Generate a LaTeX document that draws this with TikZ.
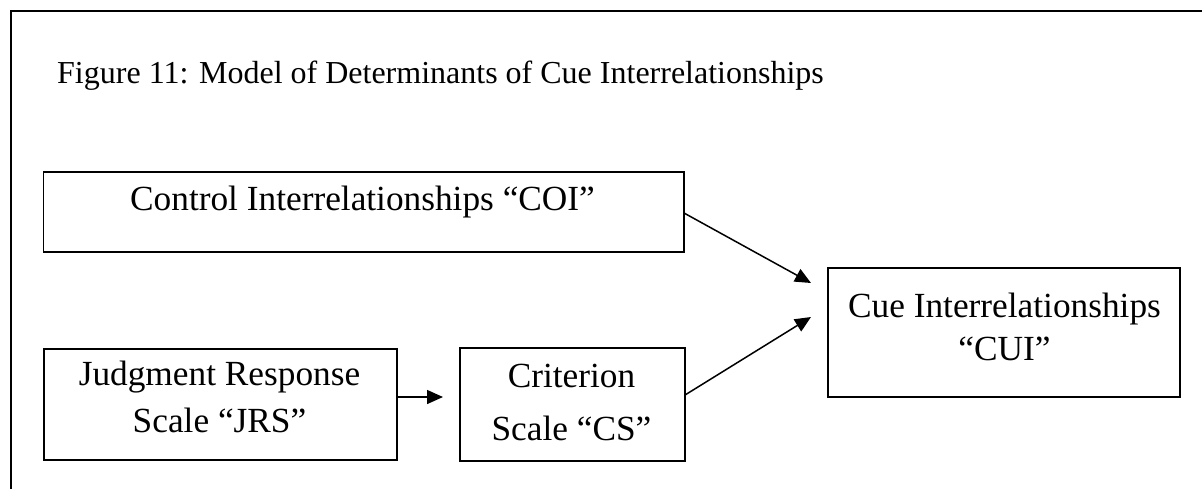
\documentclass[tikz,border=0pt]{standalone}
\usepackage{fontspec}
\setmainfont{Liberation Serif}
\usetikzlibrary{arrows.meta,calc}
\begin{document}
\begin{tikzpicture}[x=1pt,y=-1pt,
  box/.style={draw=black,line width=1.5pt,rectangle,anchor=north west,inner sep=0pt,outer sep=0pt},
  lbl/.style={anchor=base,inner sep=0pt,font=\fontsize{35.3}{35.3}\selectfont},
  conn/.style={line width=1.5pt,-{Triangle[length=16pt,width=14pt]}}]
\useasboundingbox (0,0) rectangle (1202,488);
\fill[white] (0,0) rectangle (1202,488);
\draw[line width=2pt] (11,495) -- (11,11) -- (1210,11);
\node[anchor=base west,inner sep=0pt,font=\fontsize{32}{32}\selectfont] (title) at (57,83) {Figure 11: Model of Determinants of Cue Interrelationships};
\node[box,minimum width=640.5pt,minimum height=80pt] (coi) at (43.5,172) {};
\node[box,minimum width=353pt,minimum height=111pt] (jrs) at (44,349) {};
\node[box,minimum width=225pt,minimum height=113pt] (cs) at (460,348) {};
\node[box,minimum width=352pt,minimum height=129pt] (cui) at (828,268) {};
\node[lbl] (t1) at (362.5,210) {Control Interrelationships “COI”};
\node[lbl] (t2) at (219.5,385) {Judgment Response};
\node[lbl] (t3) at (219.5,432) {Scale “JRS”};
\node[lbl] (t4) at (571.5,387) {Criterion};
\node[lbl] (t5) at (571.5,440) {Scale “CS”};
\node[lbl] (t6) at (1004.5,317) {Cue Interrelationships};
\node[lbl] (t7) at (1004.5,360) {“CUI”};
\coordinate (tipA) at (811,283);
\coordinate (tipB) at (811,317);
\coordinate (tipC) at (443,397);
\draw[conn] ([yshift=-1pt]coi.east) -- (tipA);
\draw[conn] ([yshift=9.5pt]cs.east) -- (tipB);
\draw[conn] ([yshift=7.5pt]jrs.east) -- (tipC);
\end{tikzpicture}
\end{document}
